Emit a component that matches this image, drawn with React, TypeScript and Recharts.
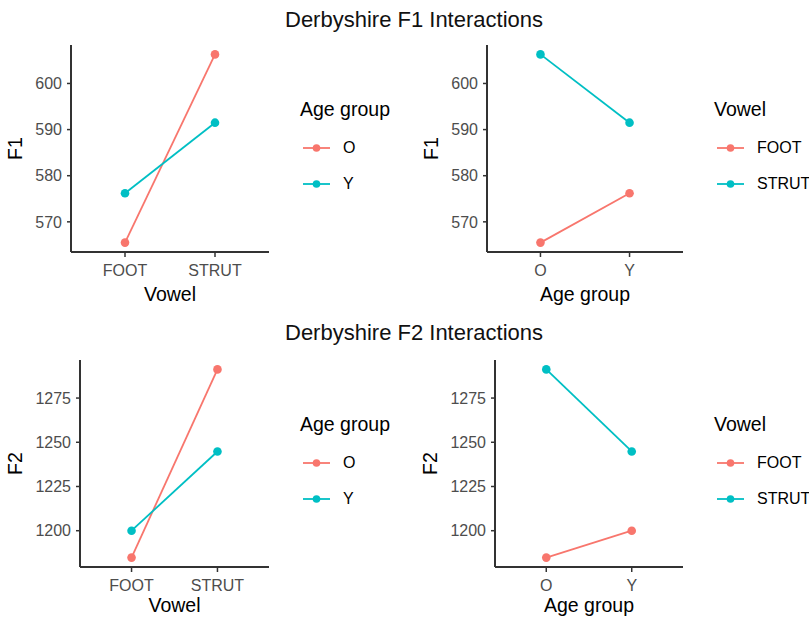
import { LineChart, Line, XAxis, YAxis, Legend } from 'recharts';

// values
const vowels = ['FOOT', 'STRUT'];
const ageGroups = ['O', 'Y'];

const f1Old = [565.5, 606.3]; // FOOT, STRUT
const f1Young = [576.2, 591.5];
const f2Old = [1184.8, 1291.2];
const f2Young = [1200.0, 1244.8];

const f1Ticks = [570, 580, 590, 600];
const f2Ticks = [1200, 1225, 1250, 1275];

const RED = '#F8766D';
const CYAN = '#00BFC4';
const AXIS = '#333';
const FONT = '"Liberation Sans", Arial, Helvetica, sans-serif';

const byVowel = (old: number[], young: number[]) =>
  vowels.map((v, i) => ({ x: v, O: old[i], Y: young[i] }));

const byAge = (old: number[], young: number[]) =>
  ageGroups.map((a, j) => {
    const row = j === 0 ? old : young;
    return { x: a, FOOT: row[0], STRUT: row[1] };
  });

// ggplot-style 5% expansion of the data range
const expand = (vals: number[]) => {
  const lo = Math.min(...vals);
  const hi = Math.max(...vals);
  const pad = (hi - lo) * 0.05;
  return [lo - pad, hi + pad];
};

type Box = { x: number; y: number; w: number; h: number };
type Plot = { left: number; right: number; top: number; bottom: number };

const legendContent = (title: string) => (props: any) => (
  <div style={{ fontFamily: FONT }}>
    <div style={{ fontSize: 19.5, lineHeight: '22px', color: '#000' }}>{title}</div>
    <div style={{ marginTop: 10 }}>
      {(props.payload || []).map((p: any) => (
        <div key={p.value} style={{ display: 'flex', alignItems: 'center', height: 36 }}>
          <svg width={43} height={16}>
            <line x1={3} x2={30} y1={8} y2={8} stroke={p.color} strokeWidth={1.8} />
            <circle cx={16.5} cy={8} r={3.8} fill={p.color} />
          </svg>
          <span style={{ fontSize: 16, color: '#000' }}>{p.value}</span>
        </div>
      ))}
    </div>
  </div>
);

function Panel({
  box,
  plot,
  data,
  keys,
  xTitle,
  yTitle,
  legendTitle,
  ticks,
  yGap,
}: {
  box: Box;
  plot: Plot;
  data: any[];
  keys: string[];
  xTitle: string;
  yTitle: string;
  legendTitle: string;
  ticks: number[];
  yGap: number;
}) {
  const pad = ((plot.right - plot.left) * 0.6) / 2.2;
  const values = data.flatMap((d) => keys.map((k) => d[k] as number));
  const colors = [RED, CYAN];

  return (
    <div style={{ position: 'absolute', left: box.x, top: box.y }}>
      <LineChart
        width={box.w}
        height={box.h}
        data={data}
        margin={{ top: plot.top, right: box.w - plot.right, bottom: 0, left: 0 }}
      >
        <XAxis
          dataKey="x"
          type="category"
          height={box.h - plot.bottom}
          padding={{ left: pad, right: pad }}
          axisLine={{ stroke: AXIS, strokeWidth: 2 }}
          tickLine={{ stroke: AXIS, strokeWidth: 1.5 }}
          tickSize={5}
          tickMargin={8}
          tick={{ fill: '#4d4d4d', fontSize: 16 }}
          label={{ value: xTitle, position: 'insideBottom', offset: 9, fill: '#000', fontSize: 19.5 }}
        />
        <YAxis
          type="number"
          width={plot.left}
          domain={expand(values)}
          ticks={ticks}
          axisLine={{ stroke: AXIS, strokeWidth: 2 }}
          tickLine={{ stroke: AXIS, strokeWidth: 1.5 }}
          tickSize={4}
          tickMargin={5}
          tick={{ fill: '#4d4d4d', fontSize: 16 }}
          label={(props: any) => {
            const vb = props.viewBox || { x: 0, y: plot.top, width: plot.left, height: plot.bottom - plot.top };
            const cx = vb.x + vb.width - yGap;
            const cy = vb.y + vb.height / 2;
            return (
              <text
                x={cx}
                y={cy}
                transform={`rotate(-90 ${cx} ${cy})`}
                textAnchor="middle"
                dominantBaseline="central"
                fontSize={19.5}
                fill="#000"
              >
                {yTitle}
              </text>
            );
          }}
        />
        <Legend
          layout="vertical"
          align="center"
          verticalAlign="middle"
          wrapperStyle={{ left: plot.right + 31, top: 98, width: 120 }}
          content={legendContent(legendTitle)}
        />
        {keys.map((k, i) => (
          <Line
            key={k}
            dataKey={k}
            name={k}
            type="linear"
            stroke={colors[i]}
            strokeWidth={1.8}
            dot={{ r: 4.3, fill: colors[i], stroke: colors[i], strokeWidth: 0 }}
            activeDot={false}
            isAnimationActive={false}
          />
        ))}
      </LineChart>
    </div>
  );
}

const titleStyle = (top: number): React.CSSProperties => ({
  position: 'absolute',
  left: 214,
  width: 400,
  top,
  textAlign: 'center',
  fontSize: 22,
  lineHeight: '26px',
  color: '#111',
});

export default function App() {
  return (
    <div
      style={{
        position: 'absolute',
        left: 0,
        top: 0,
        width: 809,
        height: 621,
        background: '#fff',
        fontFamily: FONT,
        overflow: 'hidden',
      }}
    >
      <div style={titleStyle(7)}>Derbyshire F1 Interactions</div>
      <div style={titleStyle(320)}>Derbyshire F2 Interactions</div>

      <Panel
        box={{ x: 0, y: 0, w: 400, h: 310 }}
        plot={{ left: 71, right: 269, top: 45, bottom: 252 }}
        data={byVowel(f1Old, f1Young)}
        keys={['O', 'Y']}
        xTitle="Vowel"
        yTitle="F1"
        legendTitle="Age group"
        ticks={f1Ticks}
        yGap={56}
      />
      <Panel
        box={{ x: 400, y: 0, w: 409, h: 310 }}
        plot={{ left: 87, right: 283, top: 45, bottom: 252 }}
        data={byAge(f1Old, f1Young)}
        keys={['FOOT', 'STRUT']}
        xTitle="Age group"
        yTitle="F1"
        legendTitle="Vowel"
        ticks={f1Ticks}
        yGap={56}
      />
      <Panel
        box={{ x: 0, y: 315, w: 400, h: 306 }}
        plot={{ left: 80, right: 269, top: 45, bottom: 252 }}
        data={byVowel(f2Old, f2Young)}
        keys={['O', 'Y']}
        xTitle="Vowel"
        yTitle="F2"
        legendTitle="Age group"
        ticks={f2Ticks}
        yGap={65}
      />
      <Panel
        box={{ x: 400, y: 315, w: 409, h: 306 }}
        plot={{ left: 95, right: 283, top: 45, bottom: 252 }}
        data={byAge(f2Old, f2Young)}
        keys={['FOOT', 'STRUT']}
        xTitle="Age group"
        yTitle="F2"
        legendTitle="Vowel"
        ticks={f2Ticks}
        yGap={65}
      />
    </div>
  );
}
